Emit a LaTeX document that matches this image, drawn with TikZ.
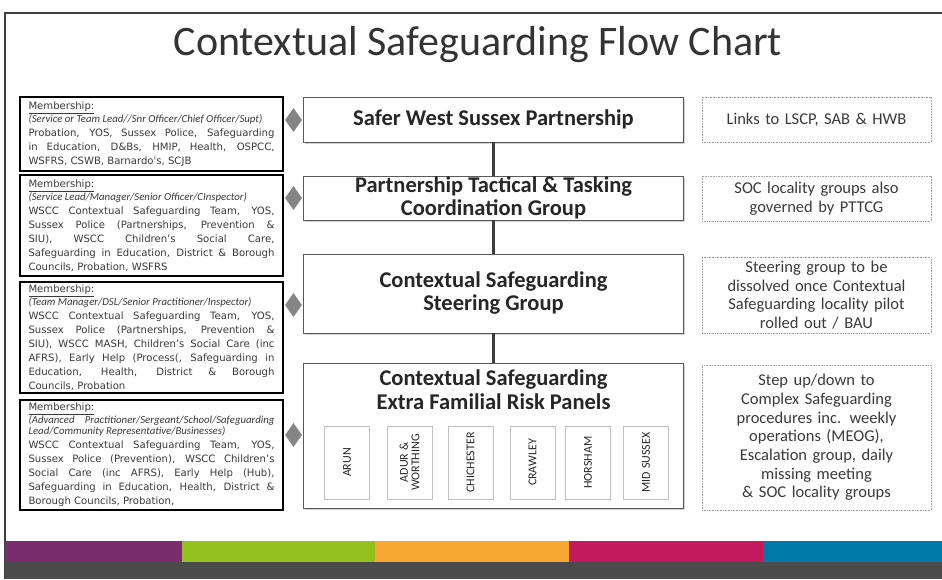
\documentclass[tikz,border=0pt]{standalone}
\usepackage{fontspec}
\setmainfont{Carlito}
\newfontfamily\memfont{DejaVu Sans}
\usetikzlibrary{shapes,shapes.geometric,shadows}

\begin{document}
\begin{tikzpicture}[x=1pt,y=-1pt]

\definecolor{ttxt}{HTML}{333333} % title grey
\definecolor{frm}{HTML}{3F3F3F}  % slide frame

\definecolor{mtxt}{HTML}{3A3A3A} % membership text

\definecolor{btxt}{HTML}{262626} % group text
\definecolor{bbox}{HTML}{595959} % group border
\definecolor{lnk}{HTML}{3C3C3C}  % vertical links
\definecolor{gem}{HTML}{858585}  % diamonds

\definecolor{ntxt}{HTML}{3A3A3A} % note text
\definecolor{nbox}{HTML}{A6A6A6} % note dotted border
\definecolor{dbox}{HTML}{BFBFBF} % district border

\definecolor{barp}{HTML}{7B2C6C} % purple
\definecolor{barg}{HTML}{95C11F} % green
\definecolor{baro}{HTML}{F5A731} % orange
\definecolor{barm}{HTML}{C3195D} % magenta
\definecolor{barb}{HTML}{0078A8} % blue
\definecolor{bard}{HTML}{4B4B4B} % dark footer

\tikzstyle{heading}=[text=ttxt,font=\fontsize{42}{44}\selectfont]

\tikzstyle{member}=[rectangle,draw=black,line width=2.4pt,fill=white,
	text=mtxt,align=justify,text width=246pt,inner xsep=8.5pt,inner ysep=1pt,
	minimum width=263pt,font=\memfont\fontsize{10.1}{14}\selectfont]

\tikzstyle{group}=[rectangle,draw=bbox,fill=white,line width=0.8pt,
	minimum width=380pt,inner ysep=0pt,text=btxt,align=center,
	font=\bfseries\fontsize{22.5}{23}\selectfont,
	drop shadow={shadow xshift=1.6pt,shadow yshift=-1.6pt,opacity=0.35}]

\tikzstyle{district}=[rectangle,draw=dbox,fill=white,line width=0.6pt,rotate=90,
	minimum width=73pt,minimum height=45pt,inner sep=1pt,text=btxt,align=center,
	font=\fontsize{12}{11.5}\selectfont]

\tikzstyle{note}=[rectangle,draw=nbox,densely dotted,line width=0.6pt,
	minimum width=227pt,text width=222pt,align=center,text=ntxt,
	font=\fontsize{16.5}{18.7}\selectfont]

\tikzstyle{gemstone}=[diamond,fill=gem,inner sep=0pt,
	minimum width=17pt,minimum height=24pt]

\tikzstyle{link}=[draw=lnk,line width=3pt]
\tikzstyle{frame}=[draw=frm,line width=1.3pt]

  \useasboundingbox (0,0) rectangle (942,579);
  \fill[white] (0,0) rectangle (942,579);

  %% slide frame and footer bars
  \draw [frame] (5,579) -- (5,13) -- (942,13);
  \fill [barp] (5,541)   rectangle (182,562);
  \fill [barg] (182,541) rectangle (375,562);
  \fill [baro] (375,541) rectangle (569,562);
  \fill [barm] (569,541) rectangle (763,562);
  \fill [barb] (763,541) rectangle (942,562);
  \fill [bard] (5,562)   rectangle (942,579);

  \node  (title) at (478,45) [heading] {Contextual Safeguarding Flow Chart};

  %% membership boxes
  \node  (mem1)  at (151.5,134)   [member,minimum height=74pt]
         {\underline{Membership:}\par
          {\rmfamily\itshape\fontsize{10.8}{11}\selectfont
           (Service or Team Lead//Snr Officer/Chief Officer/Supt)\par}
          Probation, YOS, Sussex Police, Safeguarding\linebreak
          in Education, D\&Bs, HMIP, Health, OSPCC,\linebreak
          WSFRS, CSWB, Barnardo's, SCJB\par
         };

  \node  (mem2)  at (151.5,225.5) [member,minimum height=101pt]
         {\underline{Membership:}\par
          {\rmfamily\itshape\fontsize{10.8}{11}\selectfont
           (Service Lead/Manager/Senior Officer/CInspector)\par}
          WSCC Contextual Safeguarding Team, YOS,\linebreak
          Sussex Police (Partnerships, Prevention \&\linebreak
          SIU), WSCC Children’s Social Care,\linebreak
          Safeguarding in Education, District \& Borough\linebreak
          Councils, Probation, WSFRS\par
         };

  \node  (mem3)  at (151.5,337.5) [member,minimum height=111pt]
         {\underline{Membership:}\par
          {\rmfamily\itshape\fontsize{10.8}{11}\selectfont
           (Team Manager/DSL/Senior Practitioner/Inspector)\par}
          WSCC Contextual Safeguarding Team, YOS,\linebreak
          Sussex Police (Partnerships, Prevention \&\linebreak
          SIU), WSCC MASH, Children’s Social Care (inc\linebreak
          AFRS), Early Help (Process(, Safeguarding in\linebreak
          Education, Health, District \& Borough\linebreak
          Councils, Probation\par
         };

  \node  (mem4)  at (151.5,455)   [member,minimum height=110pt]
         {\underline{Membership:}\par
          {\rmfamily\itshape\fontsize{10.8}{11}\selectfont
           (Advanced Practitioner/Sergeant/School/Safeguarding\linebreak
           Lead/Community Representative/Businesses)\par}
          WSCC Contextual Safeguarding Team, YOS,\linebreak
          Sussex Police (Prevention), WSCC Children’s\linebreak
          Social Care (inc AFRS), Early Help (Hub),\linebreak
          Safeguarding in Education, Health, District \&\linebreak
          Borough Councils, Probation,\par
         };

  %% groups
  \node  (swsp)  at (493.5,119.5) [group,minimum height=45pt]
         {Safer West Sussex Partnership};
  \node  (pttcg) at (493.5,198)   [group,minimum height=44pt]
         {Partnership Tactical \& Tasking\\Coordination Group};
  \node  (cssg)  at (493.5,293.5) [group,minimum height=79pt]
         {Contextual Safeguarding\\Steering Group};
  \node  (efrp)  at (493.5,435.5) [group,minimum height=145pt,
         label={[anchor=north,yshift=-4pt,text=btxt,align=center,
                 font=\bfseries\fontsize{22.5}{24}\selectfont]north:
                 Contextual Safeguarding\\Extra Familial Risk Panels}] {};

  %% districts
  \node  (arun)  at (347,462.5)   [district] {ARUN};
  \node  (adur)  at (409.5,462.5) [district] {ADUR \&\\WORTHING};
  \node  (chi)   at (470.5,462.5) [district] {CHICHESTER};
  \node  (craw)  at (532.5,462.5) [district] {CRAWLEY};
  \node  (hors)  at (588,462.5)   [district] {HORSHAM};
  \node  (mids)  at (646,462.5)   [district] {MID SUSSEX};

  %% diamonds
  \node  (g1)    at (293.5,120)   [gemstone] {};
  \node  (g2)    at (293.5,198)   [gemstone] {};
  \node  (g3)    at (293.5,305)   [gemstone] {};
  \node  (g4)    at (293.5,435)   [gemstone] {};

  %% notes
  \node  (n1)    at (816.5,119.5) [note,minimum height=45pt]
         {Links to LSCP, SAB \& HWB};
  \node  (n2)    at (816.5,198.5) [note,minimum height=45pt]
         {SOC locality groups also\\governed by PTTCG};
  \node  (n3)    at (816.5,295)   [note,minimum height=76pt]
         {Steering group to be\\dissolved once Contextual\\Safeguarding locality pilot\\rolled out / BAU};
  \node  (n4)    at (816.5,437.5) [note,minimum height=145pt]
         {Step up/down to\\Complex Safeguarding\\procedures inc. weekly\\operations (MEOG),\\Escalation group, daily\\missing meeting\\\& SOC locality groups};

  \path (swsp)  edge [link] (pttcg)
        (pttcg) edge [link] (cssg)
        (cssg)  edge [link] (efrp);

\end{tikzpicture}
\end{document}
